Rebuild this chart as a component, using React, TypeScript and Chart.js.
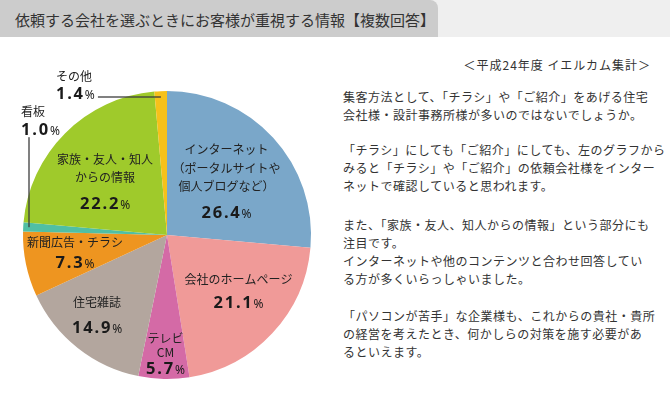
import React, { useEffect, useRef } from 'react';
import { Chart, registerables } from 'chart.js';

Chart.register(...registerables);

const categories = ['インターネット', '会社のホームページ', 'テレビCM', '住宅雑誌', '新聞広告・チラシ', '看板', '家族・友人・知人からの情報', 'その他'];
const values = [26.4, 21.1, 5.7, 14.9, 7.3, 1.0, 22.2, 1.4];
const labelLines = [
  ['インターネット', '（ポータルサイトや', '個人ブログなど）'],
  ['会社のホームページ'],
  ['テレビ', 'CM'],
  ['住宅雑誌'],
  ['新聞広告・チラシ'],
  ['看板'],
  ['家族・友人・知人', 'からの情報'],
  ['その他'],
];
const sliceColors = ['#7aa7c9', '#f09a98', '#d46aa6', '#b3a69e', '#ee9520', '#50bfa4', '#9fca2b', '#f6c11a'];

const titleText = '依頼する会社を選ぶときにお客様が重視する情報【複数回答】';
const sourceText = '＜平成24年度 イエルカム集計＞';
const paragraphs = [
  ['集客方法として、「チラシ」や「ご紹介」をあげる住宅', '会社様・設計事務所様が多いのではないでしょうか。'],
  ['「チラシ」にしても「ご紹介」にしても、左のグラフから', 'みると「チラシ」や「ご紹介」の依頼会社様をインター', 'ネットで確認していると思われます。'],
  ['また、「家族・友人、知人からの情報」という部分にも', '注目です。', 'インターネットや他のコンテンツと合わせ回答してい', 'る方が多くいらっしゃいました。'],
  ['「パソコンが苦手」な企業様も、これからの貴社・貴所', 'の経営を考えたとき、何かしらの対策を施す必要があ', 'るといえます。'],
];
const paragraphTops = [88, 141, 216, 307];

// label placement (styles/positions, kept apart from data)
const placements: any[] = [
  { kind: 'in', r: 0.56, da: 0, lineGap: 18.5, numGap: 25 },
  { kind: 'in', r: 0.63, da: -5, lineGap: 18, numGap: 22 },
  { kind: 'in', r: 0.82, da: -0.5, lineGap: 14, numGap: 16 },
  { kind: 'in', r: 0.735, da: 3, lineGap: 18, numGap: 25 },
  { kind: 'in', r: 0.65, da: 1, lineGap: 18, numGap: 19 },
  { kind: 'out', r: 0.96, ldx: 0, ldy: -90, tx: -8, ty: -26, numGap: 18, lineGap: 18 },
  { kind: 'in', r: 0.57, da: -4, lineGap: 18, numGap: 25 },
  { kind: 'out', r: 0.96, ldx: -63, ldy: 0, tx: -42, ty: -20, numGap: 16, lineGap: 18 },
];

const JP = '"Noto Sans CJK JP", "Noto Sans", sans-serif';
const NUMFONT = 'bold 16.5px "Noto Sans", sans-serif';
const PCTFONT = '12px "Noto Sans", sans-serif';
const NUMSPACING = '1.8px';

function drawNumber(ctx: CanvasRenderingContext2D, text: string, x: number, y: number, align: 'center' | 'left') {
  ctx.save();
  ctx.textBaseline = 'alphabetic';
  ctx.textAlign = 'left';
  ctx.font = NUMFONT;
  (ctx as any).letterSpacing = NUMSPACING;
  const wNum = ctx.measureText(text).width;
  (ctx as any).letterSpacing = '0px';
  ctx.font = PCTFONT;
  const wPct = ctx.measureText('%').width;
  const total = wNum + wPct;
  const sx = align === 'center' ? x - total / 2 : x;
  const base = y + 6;
  ctx.fillStyle = '#1a1a1a';
  ctx.font = NUMFONT;
  (ctx as any).letterSpacing = NUMSPACING;
  ctx.fillText(text, sx, base);
  (ctx as any).letterSpacing = '0px';
  ctx.font = PCTFONT;
  ctx.fillText('%', sx + wNum, base);
  ctx.restore();
}

const labelPlugin = {
  id: 'sliceLabels',
  afterDatasetsDraw(chart: any) {
    const ctx: CanvasRenderingContext2D = chart.ctx;
    const meta = chart.getDatasetMeta(0);
    meta.data.forEach((arc: any, i: number) => {
      const p = arc.getProps(['x', 'y', 'startAngle', 'endAngle', 'outerRadius'], true);
      const pl = placements[i];
      const lines = labelLines[i];
      const numStr = values[i].toFixed(1);
      ctx.save();
      ctx.font = `12px ${JP}`;
      ctx.fillStyle = '#222';
      ctx.textBaseline = 'middle';
      if (pl.kind === 'in') {
        const ang = (p.startAngle + p.endAngle) / 2 + (pl.da * Math.PI) / 180;
        const d = pl.r * p.outerRadius;
        const ax = p.x + Math.cos(ang) * d;
        const ay = p.y + Math.sin(ang) * d;
        const total = (lines.length - 1) * pl.lineGap + pl.numGap;
        const y0 = ay - total / 2;
        ctx.textAlign = 'center';
        lines.forEach((ln: string, k: number) => ctx.fillText(ln, ax, y0 + k * pl.lineGap));
        drawNumber(ctx, numStr, ax, y0 + (lines.length - 1) * pl.lineGap + pl.numGap, 'center');
      } else {
        const ang = (p.startAngle + p.endAngle) / 2;
        const d = pl.r * p.outerRadius;
        const sx = p.x + Math.cos(ang) * d;
        const sy = p.y + Math.sin(ang) * d;
        const ex = sx + pl.ldx;
        const ey = sy + pl.ldy;
        ctx.strokeStyle = 'rgba(60,60,60,0.65)';
        ctx.lineWidth = 2;
        ctx.beginPath();
        ctx.moveTo(sx, sy);
        ctx.lineTo(ex, ey);
        ctx.stroke();
        const lx = ex + pl.tx;
        const ly = ey + pl.ty;
        ctx.textAlign = 'left';
        lines.forEach((ln: string, k: number) => ctx.fillText(ln, lx, ly + k * pl.lineGap));
        drawNumber(ctx, numStr, lx, ly + (lines.length - 1) * pl.lineGap + pl.numGap, 'left');
      }
      ctx.restore();
    });
  },
};

export default function App() {
  const canvasRef = useRef<HTMLCanvasElement | null>(null);

  useEffect(() => {
    document.body.style.margin = '0';
    const canvas = canvasRef.current;
    if (!canvas) return;
    const chart = new Chart(canvas, {
      type: 'pie',
      data: {
        labels: categories,
        datasets: [
          {
            data: values,
            backgroundColor: sliceColors,
            borderWidth: 0,
            hoverOffset: 0,
          },
        ],
      },
      options: {
        responsive: false,
        animation: false,
        devicePixelRatio: 1,
        events: [],
        layout: { padding: { left: 23, top: 51, right: 29, bottom: 24 } },
        plugins: {
          legend: { display: false },
          tooltip: { enabled: false },
          title: { display: false },
        },
      },
      plugins: [labelPlugin],
    } as any);
    return () => chart.destroy();
  }, []);

  return (
    <div
      style={{
        position: 'fixed',
        left: 0,
        top: 0,
        width: 670,
        height: 403,
        background: '#fff',
        overflow: 'hidden',
        fontFamily: JP,
        color: '#333',
      }}
    >
      <div style={{ position: 'absolute', left: 0, top: 0, width: 670, height: 37, background: '#efefef' }} />
      <div
        style={{
          position: 'absolute',
          left: 0,
          top: 0,
          width: 438,
          height: 37,
          background: '#cccccc',
          borderTopRightRadius: 8,
        }}
      />
      <div
        style={{
          position: 'absolute',
          left: 15,
          top: 0,
          height: 40,
          lineHeight: '40px',
          fontSize: 15,
          color: '#333',
          whiteSpace: 'nowrap',
        }}
      >
        {titleText}
      </div>
      <canvas
        ref={canvasRef}
        width={340}
        height={363}
        style={{ position: 'absolute', left: 0, top: 40, width: 340, height: 363 }}
      />
      <div
        style={{
          position: 'absolute',
          right: 19,
          top: 56,
          fontSize: 12,
          lineHeight: '18px',
          letterSpacing: '1px',
          whiteSpace: 'nowrap',
          color: '#333',
        }}
      >
        {sourceText}
      </div>
      {paragraphs.map((para, i) => (
        <div
          key={i}
          style={{
            position: 'absolute',
            left: 343,
            top: paragraphTops[i],
            fontSize: 12,
            lineHeight: '18px',
            letterSpacing: '0.5px',
            whiteSpace: 'nowrap',
            color: '#333',
          }}
        >
          {para.map((ln, k) => (
            <div key={k}>{ln}</div>
          ))}
        </div>
      ))}
    </div>
  );
}
